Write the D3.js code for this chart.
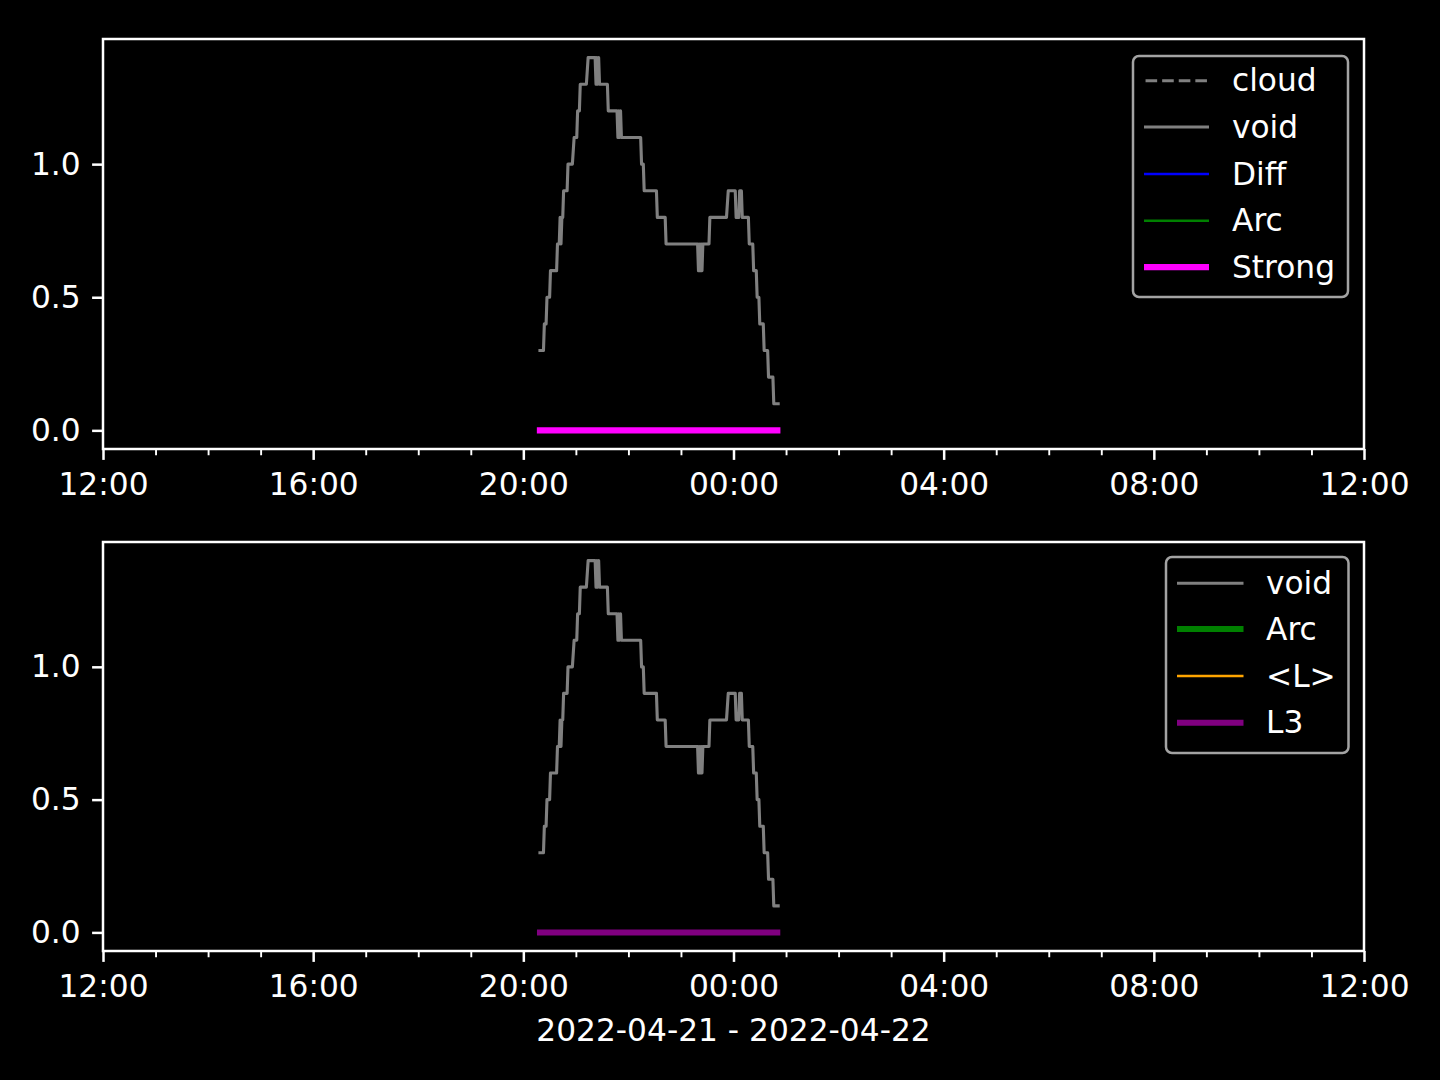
<!DOCTYPE html>
<html>
<head>
<meta charset="utf-8">
<script src="https://cdn.jsdelivr.net/npm/d3@7"></script>
<style>
  html, body { margin: 0; padding: 0; background: #000; }
  svg { display: block; }
  text { font-family: "DejaVu Sans", sans-serif; fill: #fff; }
</style>
</head>
<body>
<svg id="chart" width="1440" height="1080"></svg>
<script>
// ---------------- data ----------------
const dayStart = "2022-04-21";
const dayEnd = "2022-04-22";
const xDomain = ["2022-04-21 12:00", "2022-04-22 12:00"];
const xTickLabels = ["12:00", "16:00", "20:00", "00:00", "04:00", "08:00", "12:00"];
const yTicks = [0.0, 0.5, 1.0];
const yDomain = [-0.07, 1.47];

const voidTimes = [
  "20:19","20:23","20:24","20:26","20:27","20:30","20:31","20:38","20:39","20:41",
  "20:42","20:43","20:44","20:45","20:46","20:50","20:51","20:56","20:58","21:01",
  "21:02","21:04","21:05","21:12","21:14","21:22","21:23","21:24","21:25","21:26",
  "21:27","21:36","21:37","21:47","21:48","21:49","21:50","21:51","21:52","22:14",
  "22:15","22:17","22:18","22:32","22:33","22:42","22:43","23:19","23:20","23:21",
  "23:22","23:23","23:24","23:25","23:32","23:33","23:52","23:54","00:02","00:03",
  "00:06","00:07","00:09","00:10","00:17","00:18","00:22","00:23","00:26","00:27",
  "00:29","00:30","00:34","00:35","00:39","00:40","00:45","00:46","00:51"
];
const voidValues = [
  0.3,0.3,0.4,0.4,0.5,0.5,0.6,0.6,0.7,0.7,
  0.8,0.7,0.8,0.8,0.9,0.9,1.0,1.0,1.1,1.1,
  1.2,1.2,1.3,1.3,1.4,1.4,1.3,1.4,1.3,1.4,
  1.3,1.3,1.2,1.2,1.1,1.2,1.1,1.2,1.1,1.1,
  1.0,1.0,0.9,0.9,0.8,0.8,0.7,0.7,0.6,0.7,
  0.6,0.7,0.6,0.7,0.7,0.8,0.8,0.9,0.9,0.8,
  0.8,0.9,0.9,0.8,0.8,0.7,0.7,0.6,0.6,0.5,
  0.5,0.4,0.4,0.3,0.3,0.2,0.2,0.1,0.1
];
const strongTimes = ["20:19", "00:50"];
const strongValues = [0, 0];
const l3Times = ["20:19", "00:50"];
const l3Values = [0, 0];

const topLegend = ["cloud", "void", "Diff", "Arc", "Strong"];
const bottomLegend = ["void", "Arc", "<L>", "L3"];
const xLabel = "2022-04-21 - 2022-04-22";

// ---------------- helpers ----------------
const parseFull = d3.utcParse("%Y-%m-%d %H:%M");
function toDate(hm) {
  const h = +hm.slice(0, 2);
  return parseFull((h < 12 ? dayEnd : dayStart) + " " + hm);
}
function series(times, values) { return times.map((t, i) => ({ t: toDate(t), v: values[i] })); }

const styles = {
  cloud:  { color: "#808080", width: 3.1, dash: "11.6,5" },
  void:   { color: "#808080", width: 3.1 },
  Diff:   { color: "#0000ff", width: 2.6 },
  Arc:    { color: "#008000", width: 2.6 },
  Strong: { color: "#ff00ff", width: 6.25 },
  ArcB:   { color: "#008000", width: 6 },
  "<L>":  { color: "#ffa500", width: 2.6 },
  L3:     { color: "#800080", width: 6 }
};

const svg = d3.select("#chart");
const left = 103, right = 1364;
const FS = 31.25;

const x = d3.scaleUtc().domain(xDomain.map(d => parseFull(d))).range([left, right]);

function drawPanel(top, bottom, lines, legend) {
  const y = d3.scaleLinear().domain(yDomain).range([bottom, top]);
  const g = svg.append("g");

  const line = d3.line().x(d => x(d.t)).y(d => y(d.v));
  lines.forEach(L => {
    const st = styles[L.style];
    g.append("path").datum(L.data)
      .attr("d", line).attr("fill", "none")
      .attr("stroke", st.color).attr("stroke-width", st.width)
      .attr("stroke-linecap", "square").attr("stroke-linejoin", "round");
  });

  // minor ticks
  const majorSet = new Set();
  const majors = d3.utcHour.every(4).range(x.domain()[0], new Date(+x.domain()[1] + 1));
  majors.forEach(d => majorSet.add(+d));
  const minors = d3.utcHour.range(x.domain()[0], x.domain()[1]).filter(d => !majorSet.has(+d));
  const minorAxis = d3.axisBottom(x).tickValues(minors).tickSize(6.25).tickFormat("").tickSizeOuter(0);
  const gm = g.append("g").attr("transform", `translate(0,${bottom})`).call(minorAxis);
  gm.select(".domain").remove();
  gm.selectAll("line").attr("stroke", "#fff").attr("stroke-width", 1.9);

  const xAxis = d3.axisBottom(x).tickValues(majors)
    .tickFormat((d, i) => xTickLabels[i]).tickSize(10.9).tickPadding(12.5).tickSizeOuter(0);
  const gx = g.append("g").attr("transform", `translate(0,${bottom})`).call(xAxis);
  gx.select(".domain").remove();
  gx.selectAll("line").attr("stroke", "#fff").attr("stroke-width", 2.5);
  gx.selectAll("text").attr("font-size", FS).attr("fill", "#fff").attr("font-family", "DejaVu Sans");

  const yAxis = d3.axisLeft(y).tickValues(yTicks).tickFormat(d3.format(".1f"))
    .tickSize(10.9).tickPadding(11.5).tickSizeOuter(0);
  const gy = g.append("g").attr("transform", `translate(${left},0)`).call(yAxis);
  gy.select(".domain").remove();
  gy.selectAll("line").attr("stroke", "#fff").attr("stroke-width", 2.5);
  gy.selectAll("text").attr("font-size", FS).attr("fill", "#fff").attr("font-family", "DejaVu Sans");

  g.append("rect").attr("x", left).attr("y", top)
    .attr("width", right - left).attr("height", bottom - top)
    .attr("fill", "none").attr("stroke", "#fff").attr("stroke-width", 2.5);

  // legend
  const lg = svg.append("g");
  lg.append("rect").attr("x", legend.x0).attr("y", legend.y0)
    .attr("width", legend.x1 - legend.x0).attr("height", legend.y1 - legend.y0)
    .attr("rx", 6).attr("ry", 6)
    .attr("fill", "#000").attr("stroke", "#a3a3a3").attr("stroke-width", 2.5);
  legend.items.forEach((name, i) => {
    const st = styles[legend.styleKeys[i]];
    const cy = legend.rows[i];
    const ext = st.width / 2;
    lg.append("line")
      .attr("x1", legend.hx0 + ext).attr("x2", legend.hx1 - ext)
      .attr("y1", cy).attr("y2", cy)
      .attr("stroke", st.color).attr("stroke-width", st.width)
      .attr("stroke-linecap", st.dash ? "butt" : "square")
      .attr("stroke-dasharray", st.dash || null);
    lg.append("text").attr("x", legend.tx).attr("y", cy + 10.5)
      .attr("font-size", FS).text(name);
  });
}

drawPanel(39, 449,
  [
    { style: "void", data: series(voidTimes, voidValues) },
    { style: "Strong", data: series(strongTimes, strongValues) }
  ],
  { x0: 1133, x1: 1348, y0: 56, y1: 297, hx0: 1144, hx1: 1209, tx: 1232,
    rows: [80.7, 127, 174, 220.7, 267], items: topLegend,
    styleKeys: ["cloud", "void", "Diff", "Arc", "Strong"] });

drawPanel(542, 951,
  [
    { style: "void", data: series(voidTimes, voidValues) },
    { style: "L3", data: series(l3Times, l3Values) }
  ],
  { x0: 1166, x1: 1348.5, y0: 557, y1: 753, hx0: 1177, hx1: 1243.5, tx: 1266,
    rows: [583.3, 629, 676, 722.7], items: bottomLegend,
    styleKeys: ["void", "ArcB", "<L>", "L3"] });

svg.append("text").attr("x", (left + right) / 2).attr("y", 1041)
  .attr("text-anchor", "middle").attr("font-size", FS).text(xLabel);
</script>
</body>
</html>
